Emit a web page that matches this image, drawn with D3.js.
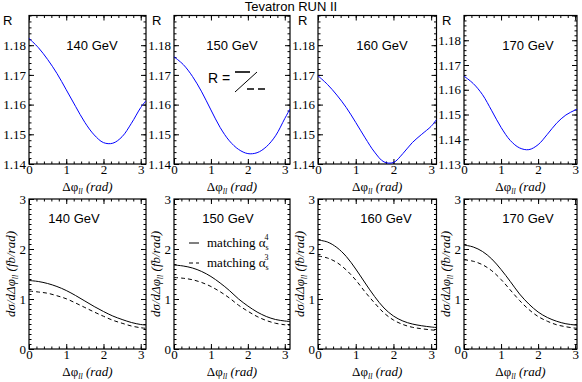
<!DOCTYPE html>
<html>
<head>
<meta charset="utf-8">
<script src="https://cdn.jsdelivr.net/npm/d3@7"></script>
<style>
body { margin: 0; background: #fff; }
svg { display: block; }
</style>
</head>
<body>
<script>
// Δφ_ll sample points (rad)
const phi = [0, 0.25, 0.5, 0.75, 1.0, 1.25, 1.5, 1.75, 2.0, 2.25, 2.5, 2.75, 3.0, 3.1416];
const masses = ["140 GeV", "150 GeV", "160 GeV", "170 GeV"];

// ratio R = matching α_s^4 / matching α_s^3
const ratio140 = [1.1823, 1.1792, 1.1752, 1.1705, 1.1650, 1.1594, 1.1540, 1.1498, 1.1472, 1.1470, 1.1492, 1.1537, 1.1590, 1.1613];
const ratio150 = [1.1761, 1.1735, 1.1695, 1.1643, 1.1582, 1.1523, 1.1478, 1.1449, 1.1435, 1.1438, 1.1458, 1.1495, 1.1553, 1.1585];
const ratio160 = [1.1697, 1.1668, 1.1632, 1.1590, 1.1540, 1.1488, 1.1440, 1.1407, 1.1405, 1.1435, 1.1472, 1.1500, 1.1527, 1.1550];
const ratio170 = [1.1655, 1.1625, 1.1580, 1.1515, 1.1448, 1.1395, 1.1365, 1.1358, 1.1378, 1.1420, 1.1465, 1.1498, 1.1518, 1.1528];

// dσ/dΔφ_ll (fb/rad), matching α_s^4 (solid)
const alpha4_140 = [1.37, 1.35, 1.31, 1.25, 1.17, 1.07, 0.96, 0.85, 0.75, 0.66, 0.59, 0.53, 0.49, 0.48];
const alpha4_150 = [1.68, 1.66, 1.62, 1.55, 1.45, 1.32, 1.17, 1.00, 0.86, 0.74, 0.65, 0.59, 0.56, 0.55];
const alpha4_160 = [2.18, 2.14, 2.03, 1.85, 1.60, 1.32, 1.05, 0.82, 0.66, 0.56, 0.50, 0.465, 0.44, 0.43];
const alpha4_170 = [2.08, 2.04, 1.95, 1.80, 1.59, 1.35, 1.10, 0.90, 0.74, 0.63, 0.555, 0.505, 0.48, 0.47];

// dσ/dΔφ_ll (fb/rad), matching α_s^3 (dashed)
const alpha3_140 = [1.16, 1.14, 1.115, 1.065, 1.005, 0.92, 0.83, 0.74, 0.655, 0.575, 0.515, 0.46, 0.425, 0.413];
const alpha3_150 = [1.43, 1.415, 1.385, 1.33, 1.25, 1.145, 1.02, 0.875, 0.755, 0.65, 0.57, 0.515, 0.485, 0.475];
const alpha3_160 = [1.86, 1.82, 1.73, 1.58, 1.38, 1.14, 0.92, 0.72, 0.58, 0.49, 0.435, 0.405, 0.382, 0.373];
const alpha3_170 = [1.785, 1.755, 1.685, 1.565, 1.39, 1.18, 0.97, 0.79, 0.65, 0.555, 0.485, 0.445, 0.417, 0.41];

const ratios = [ratio140, ratio150, ratio160, ratio170];
const alpha4 = [alpha4_140, alpha4_150, alpha4_160, alpha4_170];
const alpha3 = [alpha3_140, alpha3_150, alpha3_160, alpha3_170];

const xTickLabels = [0, 1, 2, 3];
const sigmaTickLabels = [0, 1, 2, 3];

const SERIF = "Liberation Serif, DejaVu Serif, serif";
const SANS = "Liberation Sans, Arial, sans-serif";

const svg = d3.select("body").append("svg")
    .attr("width", 582).attr("height", 382)
    .attr("font-family", SERIF);

svg.append("text")
    .attr("x", 291).attr("y", 11)
    .attr("text-anchor", "middle")
    .attr("font-family", SANS).attr("font-size", 13)
    .text("Tevatron RUN II");

// panel columns
const cols = [
    {left: 29, right: 146, xMax: Math.PI, rX: 3, topLab: 92, botLab: 74},
    {left: 174, right: 290, xMax: Math.PI, rX: 152, topLab: 232, botLab: 228},
    {left: 318, right: 436.5, xMax: Math.PI, rX: 298, topLab: 382, botLab: 386},
    {left: 464, right: 577, xMax: 3.05, rX: 442, topLab: 528, botLab: 528}
];
const topRow = {y0: 15.5, y1: 164};
const botRow = {y0: 199, y1: 349};

function range(a, b, s) {
    const out = [];
    for (let v = a; v <= b + s * 1e-6; v += s) out.push(+v.toFixed(6));
    return out;
}

function styleAxis(sel) {
    sel.select(".domain").remove();
    sel.attr("font-family", SERIF).attr("font-size", 13);
    sel.selectAll(".tick line").attr("stroke", "#000");
    sel.selectAll(".tick text").attr("fill", "#000").attr("font-family", SERIF);
}

// four-sided inward ticks plus frame
function drawFrame(g, x, y, w, h, yLabels, yMajorStep, yMinorStep, yFmt, xPad) {
    const [y0, y1] = y.domain();
    const yMajor = range(y0, y1, yMajorStep);
    const yMinor = range(y0, y1, yMinorStep);
    const xMajor = range(0, x.domain()[1], 1);
    const xMinor = range(0, x.domain()[1], 0.2);

    g.append("g").attr("transform", `translate(0,${h})`)
        .call(d3.axisBottom(x).tickValues(xMinor).tickSize(-2.5).tickSizeOuter(0).tickFormat(""))
        .call(styleAxis);
    g.append("g").attr("transform", `translate(0,${h})`)
        .call(d3.axisBottom(x).tickValues(xTickLabels).tickSize(-5).tickSizeOuter(0).tickPadding(xPad).tickFormat(d3.format("d")))
        .call(styleAxis);
    g.append("g")
        .call(d3.axisTop(x).tickValues(xMinor).tickSize(-2.5).tickSizeOuter(0).tickFormat(""))
        .call(styleAxis);
    g.append("g")
        .call(d3.axisTop(x).tickValues(xMajor).tickSize(-5).tickSizeOuter(0).tickFormat(""))
        .call(styleAxis);

    g.append("g")
        .call(d3.axisLeft(y).tickValues(yMinor).tickSize(-2.5).tickSizeOuter(0).tickFormat(""))
        .call(styleAxis);
    g.append("g")
        .call(d3.axisLeft(y).tickValues(yLabels).tickSize(-5).tickSizeOuter(0).tickPadding(3).tickFormat(yFmt))
        .call(styleAxis);
    g.append("g").attr("transform", `translate(${w},0)`)
        .call(d3.axisRight(y).tickValues(yMinor).tickSize(-2.5).tickSizeOuter(0).tickFormat(""))
        .call(styleAxis);
    g.append("g").attr("transform", `translate(${w},0)`)
        .call(d3.axisRight(y).tickValues(yMajor).tickSize(-5).tickSizeOuter(0).tickFormat(""))
        .call(styleAxis);

    g.append("rect")
        .attr("width", w).attr("height", h)
        .attr("fill", "none").attr("stroke", "#000").attr("stroke-width", 1.2);
}

function xTitle(g, cx, y) {
    const t = g.append("text")
        .attr("x", cx).attr("y", y)
        .attr("text-anchor", "middle").attr("font-size", 13)
        .attr("font-family", SERIF);
    t.append("tspan").text("Δφ");
    t.append("tspan").attr("font-size", 8).attr("font-style", "italic").attr("dy", 3).text("ll");
    t.append("tspan").attr("dy", -3).attr("font-style", "italic").text(" (rad)");
}

function yTitle(g, x, cy) {
    const t = g.append("text")
        .attr("transform", `translate(${x},${cy}) rotate(-90)`)
        .attr("text-anchor", "middle").attr("font-size", 13)
        .attr("font-family", SERIF)
        .attr("font-style", "italic");
    t.append("tspan").text("dσ/dΔφ");
    t.append("tspan").attr("font-size", 8).attr("dy", 3).text("ll");
    t.append("tspan").attr("dy", -3).text(" (fb/rad)");
}

cols.forEach((c, i) => {
    const w = c.right - c.left;
    const x = d3.scaleLinear().domain([0, c.xMax]).range([0, w]);

    // ---- top row: ratio R ----
    const hT = topRow.y1 - topRow.y0;
    const yR = d3.scaleLinear().domain(i === 3 ? [1.13, 1.19] : [1.14, 1.19]).range([hT, 0]);
    const gT = svg.append("g").attr("transform", `translate(${c.left},${topRow.y0})`);
    const clipT = "clipT" + i;
    gT.append("clipPath").attr("id", clipT).append("rect").attr("width", w).attr("height", hT);

    const rLabels = i === 3 ? range(1.13, 1.18, 0.01) : range(1.14, 1.18, 0.01);
    drawFrame(gT, x, yR, w, hT, rLabels, 0.01, 0.002, d3.format(".2f"), 1);

    const lineR = d3.line().x((d, k) => x(phi[k])).y(d => yR(d)).curve(d3.curveCatmullRom.alpha(0.5));
    gT.append("path")
        .datum(ratios[i])
        .attr("clip-path", `url(#${clipT})`)
        .attr("d", lineR)
        .attr("fill", "none").attr("stroke", "#0000ff").attr("stroke-width", 1);

    gT.append("text")
        .attr("x", c.topLab - c.left).attr("y", 50 - topRow.y0)
        .attr("text-anchor", "middle")
        .attr("font-family", SANS).attr("font-size", 13)
        .text(masses[i]);

    svg.append("text")
        .attr("x", c.rX).attr("y", 25)
        .attr("font-family", SANS).attr("font-size", 13)
        .text("R");

    xTitle(svg, (c.left + c.right) / 2, 191);

    // ---- bottom row: dσ/dΔφ ----
    const hB = botRow.y1 - botRow.y0;
    const yS = d3.scaleLinear().domain([0, 3]).range([hB, 0]);
    const gB = svg.append("g").attr("transform", `translate(${c.left},${botRow.y0})`);
    const clipB = "clipB" + i;
    gB.append("clipPath").attr("id", clipB).append("rect").attr("width", w).attr("height", hB);

    drawFrame(gB, x, yS, w, hB, sigmaTickLabels, 1, 0.1, d3.format("d"), 1);

    const lineS = d3.line().x((d, k) => x(phi[k])).y(d => yS(d)).curve(d3.curveCatmullRom.alpha(0.5));
    gB.append("path")
        .datum(alpha4[i])
        .attr("clip-path", `url(#${clipB})`)
        .attr("d", lineS)
        .attr("fill", "none").attr("stroke", "#000").attr("stroke-width", 1);
    gB.append("path")
        .datum(alpha3[i])
        .attr("clip-path", `url(#${clipB})`)
        .attr("d", lineS)
        .attr("fill", "none").attr("stroke", "#000").attr("stroke-width", 1)
        .attr("stroke-dasharray", "4,3");

    gB.append("text")
        .attr("x", c.botLab - c.left).attr("y", 223 - botRow.y0)
        .attr("text-anchor", "middle")
        .attr("font-family", SANS).attr("font-size", 13)
        .text(masses[i]);

    yTitle(svg, c.left - 14, 274);
    xTitle(svg, (c.left + c.right) / 2, 376);
});

// legend in the 150 GeV cross-section panel
const legend = [
    {y: 243, dash: null, power: "4"},
    {y: 263, dash: "4,3", power: "3"}
];
legend.forEach(l => {
    svg.append("line")
        .attr("x1", 189).attr("x2", 199).attr("y1", l.y).attr("y2", l.y)
        .attr("stroke", "#000").attr("stroke-width", 1)
        .attr("stroke-dasharray", l.dash);
    const t = svg.append("text")
        .attr("x", 207).attr("y", l.y + 4)
        .attr("font-family", SERIF).attr("font-size", 13);
    t.append("tspan").text("matching α");
    t.append("tspan").attr("font-size", 8).attr("dy", 3).text("s");
    t.append("tspan").attr("font-size", 8).attr("dx", -4).attr("dy", -10).text(l.power);
});

// R = solid / dashed symbol
svg.append("text")
    .attr("x", 208).attr("y", 83)
    .attr("font-family", SANS).attr("font-size", 14)
    .text("R =");
svg.append("line")
    .attr("x1", 235).attr("x2", 250).attr("y1", 72).attr("y2", 72)
    .attr("stroke", "#000").attr("stroke-width", 1.6);
svg.append("line")
    .attr("x1", 235).attr("x2", 257).attr("y1", 92).attr("y2", 72)
    .attr("stroke", "#000").attr("stroke-width", 1);
svg.append("line")
    .attr("x1", 247).attr("x2", 265).attr("y1", 89).attr("y2", 89)
    .attr("stroke", "#000").attr("stroke-width", 1.6)
    .attr("stroke-dasharray", "7,4");
</script>
</body>
</html>
